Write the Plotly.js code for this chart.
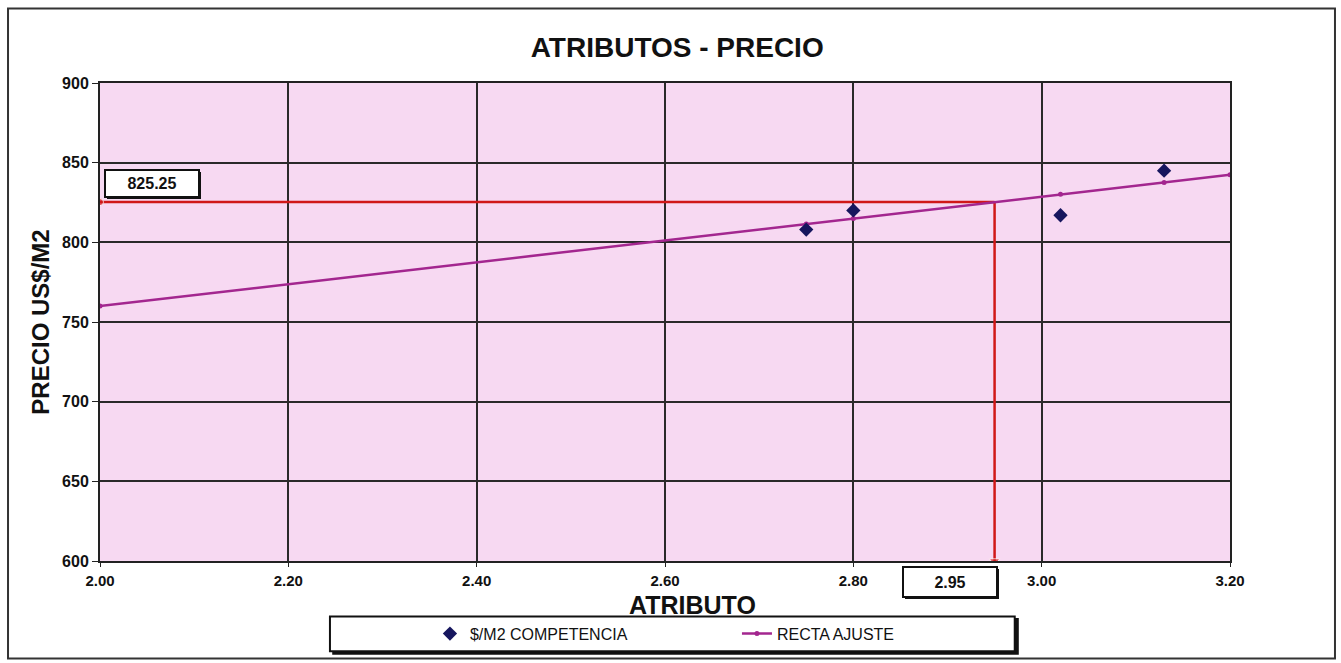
<!DOCTYPE html>
<html>
<head>
<meta charset="utf-8">
<script src="https://cdn.plot.ly/plotly-3.0.1.min.js"></script>
<style>html,body{margin:0;padding:0;background:#fff;}#chart{width:1341px;height:663px;}</style>
</head>
<body>
<div id="chart"></div>
<script>
// Data
const atributoCompetencia = [2.75, 2.80, 3.02, 3.13];
const precioCompetencia = [808, 820, 817, 845];
const atributoRecta = [2.00, 2.75, 2.80, 3.02, 3.13, 3.20];
const precioRecta = [760, 811.5, 814.9, 830.1, 837.6, 842.4];
const atributoEstimado = 2.95;
const precioEstimado = 825.25;
const xTicks = [2.00, 2.20, 2.40, 2.60, 2.80, 3.00, 3.20];
const yTicks = [600, 650, 700, 750, 800, 850, 900];
const xMin = 2.00, yMin = 600;

const FONT = 'Liberation Sans, Arial, sans-serif';
const RED = '#d01818';

const traces = [
  {
    x: [xMin, atributoEstimado], y: [precioEstimado, precioEstimado],
    mode: 'lines+markers', showlegend: false, hoverinfo: 'skip',
    line: {color: RED, width: 2.5},
    marker: {color: RED, size: [7, 0], symbol: 'circle'}
  },
  {
    x: [atributoEstimado, atributoEstimado], y: [precioEstimado, yMin],
    mode: 'lines+markers', showlegend: false, hoverinfo: 'skip',
    line: {color: RED, width: 2.5},
    marker: {color: RED, size: [0, 9], symbol: ['circle', 'triangle-down']}
  },
  {
    x: atributoRecta, y: precioRecta, name: 'RECTA AJUSTE',
    mode: 'lines+markers',
    line: {color: '#a3268f', width: 2.5},
    marker: {color: '#a3268f', size: 5, symbol: 'circle'}
  },
  {
    x: atributoCompetencia, y: precioCompetencia, name: '$/M2 COMPETENCIA',
    mode: 'markers',
    marker: {color: '#16165e', size: 11, symbol: 'diamond'}
  }
];

const layout = {
  width: 1341, height: 663,
  margin: {l: 100, r: 111, t: 83, b: 100},
  paper_bgcolor: '#ffffff',
  plot_bgcolor: '#f7d9f2',
  font: {family: FONT, color: '#111'},
  title: {
    text: '<b>ATRIBUTOS - PRECIO</b>',
    font: {family: FONT, size: 28, color: '#111'},
    x: 0.505, xanchor: 'center', yref: 'container', y: 0.929, yanchor: 'middle'
  },
  xaxis: {
    range: [2.00, 3.20], tickvals: xTicks, ticktext: xTicks.map(v => '<b>' + v.toFixed(2) + '</b>'),
    showgrid: true, gridcolor: '#2a2a2a', gridwidth: 2,
    showline: true, linecolor: '#222', linewidth: 2, mirror: true,
    zeroline: false, ticks: 'outside', ticklen: 4, tickcolor: '#222', ticklabelstandoff: 1,
    tickfont: {family: FONT, size: 15, color: '#111'}
  },
  yaxis: {
    range: [600, 900], tickvals: yTicks, ticktext: yTicks.map(v => '<b>' + v + '</b>'),
    showgrid: true, gridcolor: '#2a2a2a', gridwidth: 2,
    showline: true, linecolor: '#222', linewidth: 2, mirror: true,
    zeroline: false, ticks: 'outside', ticklen: 6, tickcolor: '#222',
    tickfont: {family: FONT, size: 16, color: '#111'},
    title: {text: '<b>PRECIO US$/M2</b>', font: {family: FONT, size: 24, color: '#111'}, standoff: 6}
  },
  showlegend: true,
  legend: {
    orientation: 'h', x: 0.292, xanchor: 'left', y: -0.152, yanchor: 'middle',
    entrywidth: 262, entrywidthmode: 'pixels',
    bgcolor: 'rgba(0,0,0,0)', borderwidth: 0,
    font: {family: FONT, size: 16, color: '#111'},
    traceorder: 'reversed'
  },
  shapes: [
    {type: 'rect', xref: 'paper', yref: 'paper', x0: -0.0814, x1: 1.0929, y0: -0.204, y1: 1.156,
     layer: 'below', line: {color: '#333', width: 2}},
    {type: 'rect', xref: 'paper', yref: 'paper', x0: 0.2055, x1: 0.8131, y0: -0.196, y1: -0.119,
     layer: 'below', fillcolor: '#111', line: {color: '#111', width: 0}},
    {type: 'rect', xref: 'paper', yref: 'paper', x0: 0.2035, x1: 0.8095, y0: -0.189, y1: -0.116,
     layer: 'below', fillcolor: '#fff', line: {color: '#111', width: 2}}
  ],
  annotations: [
    {xref: 'paper', yref: 'paper', x: 0.524, y: -0.092, xanchor: 'center', yanchor: 'middle',
     text: '<b>ATRIBUTO</b>', showarrow: false, borderpad: 0,
     font: {family: FONT, size: 25, color: '#111'}},
    {xref: 'paper', yref: 'paper', x: 0.0478, y: 0.785, xanchor: 'center', yanchor: 'middle', text: ' ',
     showarrow: false, width: 92, height: 25, bgcolor: '#111', borderwidth: 0},
    {xref: 'paper', yref: 'paper', x: 0.0460, y: 0.790, xanchor: 'center', yanchor: 'middle',
     text: '<b>' + precioEstimado.toFixed(2) + '</b>',
     showarrow: false, width: 90, height: 23, bgcolor: '#fff', bordercolor: '#111', borderwidth: 2,
     font: {family: FONT, size: 16, color: '#111'}},
    {xref: 'paper', yref: 'paper', x: 0.7540, y: -0.048, xanchor: 'center', yanchor: 'middle', text: ' ',
     showarrow: false, width: 92, height: 28, bgcolor: '#111', borderwidth: 0},
    {xref: 'paper', yref: 'paper', x: 0.7522, y: -0.044, xanchor: 'center', yanchor: 'middle',
     text: '<b>' + atributoEstimado.toFixed(2) + '</b>',
     showarrow: false, width: 90, height: 26, bgcolor: '#fff', bordercolor: '#111', borderwidth: 2,
     font: {family: FONT, size: 16, color: '#111'}}
  ]
};

Plotly.newPlot('chart', traces, layout, {displayModeBar: false, staticPlot: true});
</script>
</body>
</html>
